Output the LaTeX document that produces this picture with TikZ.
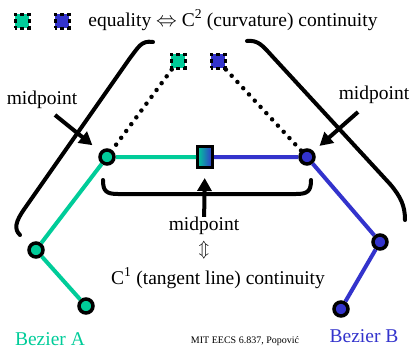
\documentclass[tikz,border=0pt]{standalone}
\usepackage{fontspec}
\setmainfont{Liberation Serif}
\usetikzlibrary{arrows.meta}
\definecolor{bzgreen}{RGB}{0,204,153}
\definecolor{bzblue}{RGB}{51,51,204}
\tikzset{
  ctrl/.style={circle, draw, line width=3.5pt, minimum size=14pt, inner sep=0pt},
  handle/.style={rectangle, draw, dash pattern=on 3.5pt off 3.5pt, dash phase=1.75pt, line width=3pt, minimum size=14pt, inner sep=0pt},
  poly/.style={line width=4pt},
  brace/.style={line width=4pt, line cap=round},
  dots/.style={line width=4.5pt, line cap=round, dash pattern=on 0pt off 8.5pt},
  arr/.style={line width=4pt, -{Triangle[width=14pt,length=13pt]}},
  lbl/.style={font=\fontsize{19.5}{22}\selectfont, inner sep=0pt}
}
\begin{document}
\begin{tikzpicture}[x=1pt,y=-1pt]
  \useasboundingbox (0,0) rectangle (413,351);

  % Legend
  \node (legA) [handle, fill=bzgreen] at (22,21) {};
  \node (legB) [handle, fill=bzblue] at (62,21) {};
  \node (title) [lbl] at (233,20) {equality $\Leftrightarrow$ C\textsuperscript{2} (curvature) continuity};

  % Control points
  \node (a0) [ctrl, fill=bzgreen] at (86,306) {};
  \node (a1) [ctrl, fill=bzgreen] at (36,250) {};
  \node (a2) [ctrl, fill=bzgreen] at (107,157) {};
  \node (b1) [ctrl, fill=bzblue] at (307,157) {};
  \node (b2) [ctrl, fill=bzblue] at (380,242) {};
  \node (b3) [ctrl, fill=bzblue] at (341,309) {};
  \node (m) [rectangle, draw, line width=3pt, minimum width=15pt, minimum height=21pt,
    inner sep=0pt, left color=bzgreen, right color=bzblue] at (205,157) {};

  % Control polygons
  \draw[poly, bzgreen] (a0) -- (a1) -- (a2) -- (m);
  \draw[poly, bzblue] (m) -- (b1) -- (b2) -- (b3);

  % Handles
  \node (hA) [handle, fill=bzgreen] at (178,61) {};
  \node (hB) [handle, fill=bzblue] at (218,61) {};
  \draw[dots] (hA) -- (a2);
  \draw[dots] (hB) -- (b1);

  % Braces
  \draw[brace] (153,42) .. controls (141,40) and (138,48) .. (130,58)
    -- (25,208) .. controls (15,222) and (14,229) .. (20,235);
  \draw[brace] (247,41) .. controls (258,40) and (262,45) .. (272,56)
    -- (390,184) .. controls (401,197) and (405,206) .. (405,220);
  \draw[brace] (103,180) .. controls (103,191) and (106,194) .. (118,194)
    -- (296,194) .. controls (308,194) and (311,191) .. (311,180);

  % Midpoint labels
  \node (lmid) [lbl] at (42,100) {midpoint};
  \node (rmid) [lbl] at (374,95) {midpoint};
  \node (bmid) [lbl] at (204,226) {midpoint};
  \coordinate (lt) at (55,115);
  \coordinate (rt) at (358,112);
  \draw[arr, shorten >=10pt] (lt) -- (a2);
  \draw[arr, shorten >=8pt] (rt) -- (b1);
  \draw[arr, shorten >=9pt] (bmid) -- (m);

  % C1 text
  \node (equiv) [inner sep=0pt, font=\fontsize{16}{18}\selectfont] at (204,250) {$\Updownarrow$};
  \node (cone) [lbl] at (218,278) {C\textsuperscript{1} (tangent line) continuity};

  % Curve names
  \node (nameA) [lbl, text=bzgreen] at (50,339) {Bezier A};
  \node (nameB) [lbl, text=bzblue] at (364,336) {Bezier B};
  \node (credit) [inner sep=0pt, font=\fontsize{10}{12}\selectfont] at (245,341) {MIT EECS 6.837, Popović};
\end{tikzpicture}
\end{document}
